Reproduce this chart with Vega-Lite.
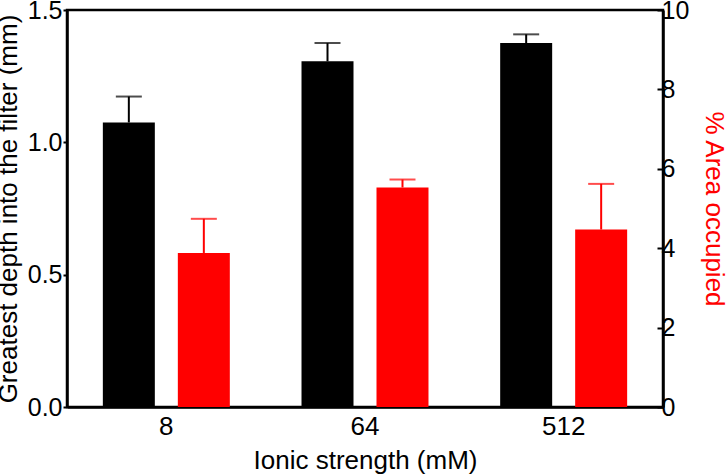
{
  "$schema": "https://vega.github.io/schema/vega-lite/v6.json",
  "width": 596,
  "height": 397,
  "autosize": {"type": "none"},
  "padding": {"left": 67, "top": 10, "right": 64, "bottom": 69},
  "background": "white",
  "config": {
    "font": "Liberation Sans",
    "view": {"stroke": "black", "strokeWidth": 2.5},
    "axis": {
      "labelFont": "Liberation Sans",
      "titleFont": "Liberation Sans",
      "labelFontSize": 25,
      "titleFontSize": 26,
      "titleFontWeight": "normal",
      "labelColor": "black",
      "titleColor": "black",
      "domainColor": "black",
      "domainWidth": 2.5,
      "tickColor": "black",
      "tickWidth": 2,
      "grid": false
    }
  },
  "data": {
    "values": [
      {"strength": "8", "series": "depth", "value": 1.075, "upper": 1.173},
      {"strength": "64", "series": "depth", "value": 1.306, "upper": 1.375},
      {"strength": "512", "series": "depth", "value": 1.375, "upper": 1.408},
      {"strength": "8", "series": "area", "value": 3.88, "upper": 4.74},
      {"strength": "64", "series": "area", "value": 5.53, "upper": 5.73},
      {"strength": "512", "series": "area", "value": 4.47, "upper": 5.62}
    ]
  },
  "encoding": {
    "x": {
      "field": "strength",
      "type": "nominal",
      "sort": ["8", "64", "512"],
      "scale": {"paddingInner": 0, "paddingOuter": 0},
      "axis": {
        "title": "Ionic strength (mM)",
        "labelAngle": 0,
        "labelFontSize": 26,
        "ticks": false,
        "labelPadding": 6,
        "titlePadding": 8
      }
    },
    "xOffset": {
      "field": "series",
      "type": "nominal",
      "sort": ["depth", "area"],
      "scale": {"domain": ["depth", "area"], "paddingInner": 0.3067, "paddingOuter": 0.478}
    }
  },
  "layer": [
    {
      "transform": [{"filter": "datum.series === 'depth'"}],
      "encoding": {
        "y": {
          "type": "quantitative",
          "scale": {"domain": [0, 1.5], "nice": false},
          "axis": {
            "orient": "left",
            "title": "Greatest depth into the filter (mm)",
            "values": [0, 0.5, 1, 1.5],
            "format": ".1f",
            "tickSize": 4,
            "labelPadding": 1,
            "titlePadding": 6
          }
        }
      },
      "layer": [
        {"mark": {"type": "rule", "color": "black", "strokeWidth": 2}, "encoding": {"y": {"field": "value", "type": "quantitative"}, "y2": {"field": "upper"}}},
        {"mark": {"type": "tick", "color": "black", "size": 26, "thickness": 2}, "encoding": {"y": {"field": "upper", "type": "quantitative"}}},
        {"mark": {"type": "bar", "color": "black"}, "encoding": {"y": {"field": "value", "type": "quantitative"}}}
      ]
    },
    {
      "transform": [{"filter": "datum.series === 'area'"}],
      "encoding": {
        "y": {
          "type": "quantitative",
          "scale": {"domain": [0, 10], "nice": false},
          "axis": {
            "orient": "right",
            "title": "% Area occupied",
            "titleColor": "#ff0000",
            "values": [0, 2, 4, 6, 8, 10],
            "tickSize": -6,
            "labelPadding": 4,
            "titlePadding": 12
          }
        }
      },
      "layer": [
        {"mark": {"type": "rule", "color": "#ff0000", "strokeWidth": 2}, "encoding": {"y": {"field": "value", "type": "quantitative"}, "y2": {"field": "upper"}}},
        {"mark": {"type": "tick", "color": "#ff0000", "size": 26, "thickness": 2}, "encoding": {"y": {"field": "upper", "type": "quantitative"}}},
        {"mark": {"type": "bar", "color": "#ff0000"}, "encoding": {"y": {"field": "value", "type": "quantitative"}}}
      ]
    }
  ],
  "resolve": {"scale": {"y": "independent"}}
}
